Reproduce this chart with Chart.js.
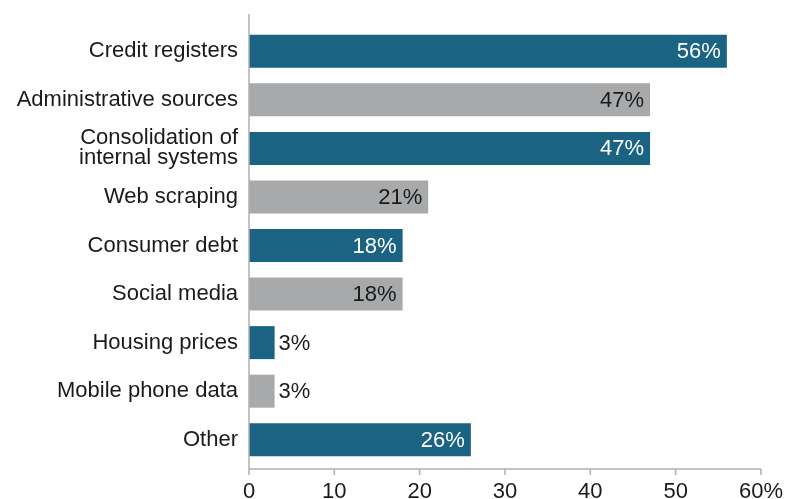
<!DOCTYPE html>
<html>
<head>
<meta charset="utf-8">
<script src="https://cdn.jsdelivr.net/npm/chart.js@4"></script>
<style>
  html, body { margin: 0; padding: 0; background: #fff; }
  #wrap { width: 798px; height: 499px; }
</style>
</head>
<body>
<div id="wrap"><canvas id="sourcesChart"></canvas></div>
<script>
// Data sources used (% of respondents)
const categories = [
    'Credit registers',
    'Administrative sources',
    ['Consolidation of', 'internal systems'],
    'Web scraping',
    'Consumer debt',
    'Social media',
    'Housing prices',
    'Mobile phone data',
    'Other'
];
const shares = [56, 47, 47, 21, 18, 18, 3, 3, 26];
const xTicks = [0, 10, 20, 30, 40, 50, 60];

const BLUE = '#1a6383';
const GREY = '#a7a9ab';
const AXIS = '#b0b0b0';
const TEXT = '#1a1a1a';
const FONT = "'Liberation Sans', Arial, Helvetica, sans-serif";

const barColors = shares.map((v, i) => (i % 2 === 0 ? BLUE : GREY));

// axis lines and tick marks, drawn by hand so the y line can run above the bars
const axisLines = {
    id: 'axisLines',
    afterDraw(chart) {
        const ctx = chart.ctx;
        const x = chart.scales.x;
        const left = x.getPixelForValue(0);
        const axisY = chart.chartArea.bottom + 5;
        ctx.save();
        ctx.strokeStyle = AXIS;
        ctx.lineWidth = 1.5;
        ctx.beginPath();
        ctx.moveTo(left, 14);
        ctx.lineTo(left, axisY);
        ctx.lineTo(x.getPixelForValue(60), axisY);
        xTicks.forEach(t => {
            const px = x.getPixelForValue(t);
            ctx.moveTo(px, axisY);
            ctx.lineTo(px, axisY + 6);
        });
        ctx.stroke();
        ctx.restore();
    }
};

// value labels: inside the bar end for long bars, just outside for short ones
const valueLabels = {
    id: 'valueLabels',
    afterDatasetsDraw(chart) {
        const ctx = chart.ctx;
        const meta = chart.getDatasetMeta(0);
        ctx.save();
        ctx.font = '22px ' + FONT;
        ctx.textBaseline = 'middle';
        meta.data.forEach((bar, i) => {
            const v = shares[i];
            const text = v + '%';
            if (v >= 10) {
                ctx.textAlign = 'right';
                ctx.fillStyle = barColors[i] === BLUE ? '#ffffff' : TEXT;
                ctx.fillText(text, bar.x - 6, bar.y + 1);
            } else {
                ctx.textAlign = 'left';
                ctx.fillStyle = TEXT;
                ctx.fillText(text, bar.x + 4, bar.y + 1);
            }
        });
        ctx.restore();
    }
};

const ctx = document.getElementById('sourcesChart').getContext('2d');
const sourcesChart = new Chart(ctx, {
    type: 'bar',
    data: {
        labels: categories,
        datasets: [{
            data: shares,
            backgroundColor: barColors,
            categoryPercentage: 1,
            barPercentage: 0.68
        }]
    },
    options: {
        indexAxis: 'y',
        responsive: true,
        maintainAspectRatio: false,
        animation: false,
        layout: { padding: { top: 27, right: 32, bottom: 0, left: 0 } },
        plugins: {
            legend: { display: false },
            tooltip: { enabled: false }
        },
        scales: {
            x: {
                min: 0,
                max: 60,
                afterBuildTicks: axis => { axis.ticks = xTicks.map(v => ({ value: v })); },
                afterFit: axis => { axis.height = 35; },
                grid: { display: false, drawTicks: false },
                border: { display: false },
                ticks: {
                    padding: 15,
                    color: TEXT,
                    font: { family: FONT, size: 22 },
                    maxRotation: 0,
                    callback: v => (v === 60 ? '60%' : v)
                }
            },
            y: {
                afterFit: axis => { axis.width = 249; },
                grid: { display: false, drawTicks: false },
                border: { display: false },
                ticks: {
                    padding: 11,
                    color: TEXT,
                    font: { family: FONT, size: 22, lineHeight: 0.91 }
                }
            }
        }
    },
    plugins: [axisLines, valueLabels]
});
</script>
</body>
</html>
